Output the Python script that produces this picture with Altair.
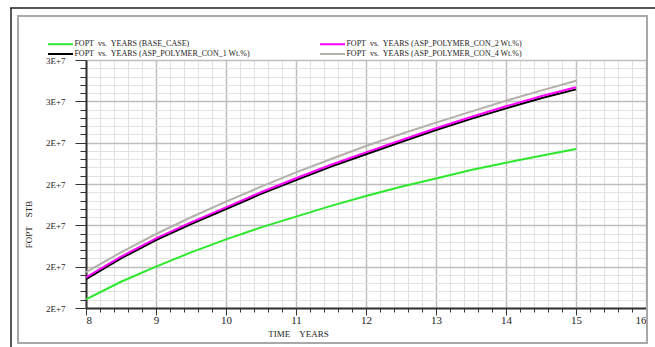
import altair as alt
import pandas as pd
import numpy as np

# ---- data ----
years = [8, 8.5, 9, 9.5, 10, 10.5, 11, 11.5, 12, 12.5, 13, 13.5, 14, 14.5, 15]
base_case = [16.42e6, 17.27e6, 18.00e6, 18.69e6, 19.32e6, 19.90e6, 20.42e6, 20.94e6,
             21.42e6, 21.87e6, 22.27e6, 22.68e6, 23.03e6, 23.37e6, 23.69e6]
con_1 = [17.40e6, 18.40e6, 19.29e6, 20.06e6, 20.79e6, 21.52e6, 22.19e6, 22.84e6,
         23.44e6, 24.03e6, 24.61e6, 25.15e6, 25.66e6, 26.15e6, 26.58e6]
con_2 = [17.48e6, 18.48e6, 19.37e6, 20.14e6, 20.87e6, 21.60e6, 22.28e6, 22.93e6,
         23.53e6, 24.12e6, 24.70e6, 25.24e6, 25.76e6, 26.25e6, 26.68e6]
con_4 = [17.73e6, 18.69e6, 19.58e6, 20.39e6, 21.15e6, 21.87e6, 22.56e6, 23.21e6,
         23.84e6, 24.42e6, 24.97e6, 25.50e6, 26.03e6, 26.52e6, 27.00e6]

NB = "\u00a0"
series_names = [
    f"FOPT{NB} vs.{NB} YEARS (BASE_CASE)",
    f"FOPT{NB} vs.{NB} YEARS (ASP_POLYMER_CON_1 Wt.%)",
    f"FOPT{NB} vs.{NB} YEARS (ASP_POLYMER_CON_2 Wt.%)",
    f"FOPT{NB} vs.{NB} YEARS (ASP_POLYMER_CON_4 Wt.%)",
]
series_values = [base_case, con_1, con_2, con_4]
series_colors = ["#2de82d", "#000000", "#ff00ff", "#b4b0aa"]
draw_order = [3, 0, 1, 2]  # gray, green, black, magenta on top

x_domain = [8, 16]
y_domain = [16e6, 28e6]

rows = []
for name, vals in zip(series_names, series_values):
    for x, v in zip(years, vals):
        rows.append({"years": x, "fopt": v, "series": name})
df = pd.DataFrame(rows)

x_ticks = [round(v, 1) for v in np.arange(8, 16.0001, 0.2)]
y_ticks = [round(v) for v in np.arange(16e6, 28e6 + 1, 4e5)]

FONT = "Liberation Serif"
x_major = "abs(datum.value - round(datum.value)) < 0.001"
y_major = "abs(datum.value / 2000000 - round(datum.value / 2000000)) < 0.001"

x_axis = alt.Axis(
    values=x_ticks,
    labelExpr=f"{x_major} ? format(round(datum.value), 'd') : ''",
    labelOverlap=False,
    labelFont=FONT, labelFontSize=11, labelColor="#222222", labelPadding=-1,
    title=f"TIME{NB}{NB}{NB}{NB}YEARS", titleFont=FONT, titleFontSize=9, titleFontWeight="normal",
    titleColor="#222222", titleX=212, titleY=25, titleBaseline="middle", titleAlign="center",
    grid=True,
    gridColor={"condition": {"test": x_major, "value": "#bebebe"}, "value": "#e2e2e2"},
    gridWidth={"condition": {"test": x_major, "value": 1.5}, "value": 1},
    tickSize={"condition": {"test": x_major, "value": 7}, "value": 4},
    tickColor="#333333", tickWidth=1,
    domainColor="#333333", domainWidth=2,
)
y_axis = alt.Axis(
    values=y_ticks,
    labelExpr=f"{y_major} ? replace(format(datum.value, '.0e'), 'e', 'E') : ''",
    labelOverlap=False,
    labelFont=FONT, labelFontSize=9, labelColor="#222222", labelPadding=10,
    title=f"FOPT{NB}{NB}{NB}{NB}STB", titleFont=FONT, titleFontSize=9, titleFontWeight="normal",
    titleColor="#222222", titleX=-58, titleY=164, titleAngle=270,
    titleBaseline="middle", titleAlign="center",
    grid=True,
    gridColor={"condition": {"test": y_major, "value": "#bebebe"}, "value": "#e2e2e2"},
    gridWidth={"condition": {"test": y_major, "value": 1.5}, "value": 1},
    tickSize={"condition": {"test": y_major, "value": 11}, "value": 6},
    tickColor="#333333", tickWidth=1,
    domainColor="#333333", domainWidth=2,
)

color = alt.Color(
    "series:N",
    scale=alt.Scale(domain=series_names, range=series_colors),
    legend=alt.Legend(
        orient="none", legendX=-31, legendY=-21.5, columns=2, columnPadding=65,
        rowPadding=0, title=None, symbolType="M-3,0L3,0", symbolStrokeWidth=2,
        symbolSize=69.4, labelFont=FONT, labelFontSize=8, labelColor="#222222",
        labelOffset=8.4, labelLimit=400, padding=0,
    ),
)

layers = []
for i in draw_order:
    layers.append(
        alt.Chart(df)
        .transform_filter(alt.datum.series == series_names[i])
        .mark_line(strokeWidth=2, clip=True)
        .encode(
            x=alt.X("years:Q", scale=alt.Scale(domain=x_domain, nice=False, zero=False), axis=x_axis),
            y=alt.Y("fopt:Q", scale=alt.Scale(domain=y_domain, nice=False, zero=False), axis=y_axis),
            color=color,
        )
    )

# decorative frame around the figure
frame = alt.Chart(pd.DataFrame({"k": [0]})).mark_rect(
    fill=None, stroke="#a8a8a8", strokeWidth=2
).encode(x=alt.value(-68), x2=alt.value(561), y=alt.value(-44), y2=alt.value(283))
outer_top = alt.Chart(pd.DataFrame({"k": [0]})).mark_rule(
    stroke="#222222", strokeWidth=1.5
).encode(x=alt.value(-76), x2=alt.value(570), y=alt.value(-52))
outer_left = alt.Chart(pd.DataFrame({"k": [0]})).mark_rule(
    stroke="#222222", strokeWidth=1.5
).encode(x=alt.value(-75), y=alt.value(-52), y2=alt.value(290))

chart = alt.layer(frame, outer_top, outer_left, *layers).properties(
    width=560, height=248,
    autosize=alt.AutoSizeParams(type="none"),
    padding={"left": 86, "top": 60, "right": 9, "bottom": 39},
    background="white",
).configure_view(stroke=None)

chart.save("out.html", embed_options={"renderer": "svg", "actions": False})
